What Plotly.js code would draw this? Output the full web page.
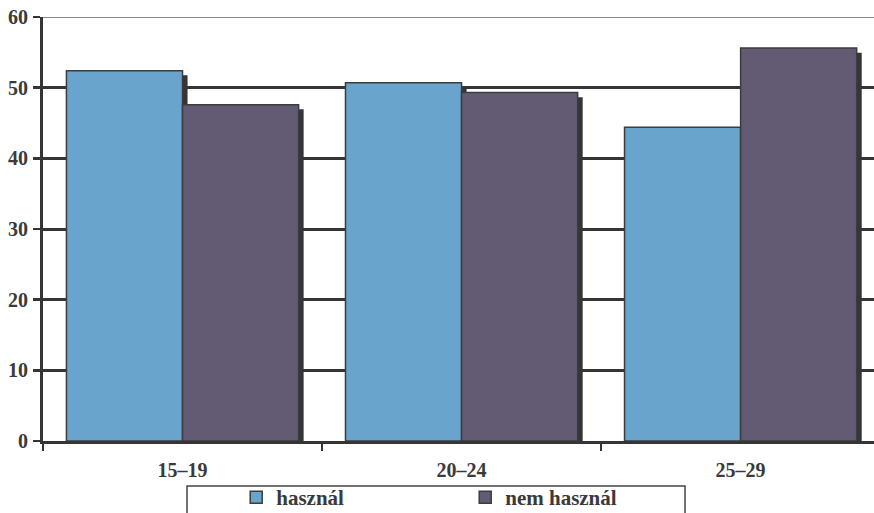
<!DOCTYPE html>
<html>
<head>
<meta charset="utf-8">
<script src="https://cdn.plot.ly/plotly-3.0.1.min.js"></script>
<style>html,body{margin:0;padding:0;background:#fff;}#chart{width:874px;height:513px;}</style>
</head>
<body>
<div id="chart"></div>
<script>
// Data
const categories = ["15–19", "20–24", "25–29"];
const hasznal = [52.4, 50.7, 44.4];
const nemHasznal = [47.6, 49.3, 55.6];
const seriesNames = ["használ", "nem használ"];
const yTicks = [0, 10, 20, 30, 40, 50, 60];

const blue = "#68A4CB";
const purple = "#635B73";
const dark = "#353535";
const barW = 0.416;
const shadowDx = 0.018;
const shadowDrop = -0.65;
const font = {family: "Liberation Serif", size: 20, color: "#3a3a3a", weight: 700};
const legendFont = {family: "Liberation Serif", size: 21, color: "#3a3a3a", weight: 700};

const traces = [
  {type: "bar", x: categories, y: hasznal, base: shadowDrop, offset: -barW + shadowDx, width: barW,
   marker: {color: dark, line: {width: 0}}, showlegend: false, hoverinfo: "skip"},
  {type: "bar", x: categories, y: nemHasznal, base: shadowDrop, offset: shadowDx, width: barW,
   marker: {color: dark, line: {width: 0}}, showlegend: false, hoverinfo: "skip"},
  {type: "bar", name: seriesNames[0], x: categories, y: hasznal, offset: -barW, width: barW,
   marker: {color: blue, line: {color: "#3c3c3c", width: 1.5}}},
  {type: "bar", name: seriesNames[1], x: categories, y: nemHasznal, offset: 0, width: barW,
   marker: {color: purple, line: {color: "#3c3c3c", width: 1.5}}}
];

const layout = {
  width: 874, height: 513,
  margin: {l: 43, r: 0, t: 17, b: 72, pad: 0, autoexpand: false},
  paper_bgcolor: "#fff", plot_bgcolor: "#fff",
  barmode: "overlay",
  font: font,
  xaxis: {
    type: "category", range: [-0.5, 2.478],
    showline: true, linecolor: dark, linewidth: 3,
    ticks: "outside", tickson: "boundaries", ticklen: 7, tickwidth: 2.5, tickcolor: dark,
    showgrid: false, zeroline: false, tickfont: font, ticklabelstandoff: 9
  },
  yaxis: {
    range: [0, 60], tickvals: yTicks, ticktext: yTicks.map(String),
    showline: true, linecolor: dark, linewidth: 3,
    ticks: "outside", ticklen: 7, tickwidth: 2.5, tickcolor: dark,
    showgrid: true, gridcolor: dark, gridwidth: 3, zeroline: false,
    tickfont: font, ticklabelstandoff: 1
  },
  shapes: [
    {type: "line", xref: "paper", yref: "y", x0: 0, x1: 1, y0: 60, y1: 60, line: {color: "#8a8a8a", width: 2}, layer: "above"},
    {type: "rect", xref: "paper", yref: "paper", x0: 0.1733, x1: 0.7726, y0: -0.106, y1: -0.2,
     line: {color: "#444", width: 1.5}, fillcolor: "rgba(0,0,0,0)", layer: "above"}
  ],
  legend: {
    orientation: "h", x: 0.2325, xanchor: "left", y: -0.085, yanchor: "top",
    bgcolor: "rgba(0,0,0,0)", borderwidth: 0, font: legendFont,
    entrywidth: 184, entrywidthmode: "pixels", traceorder: "normal"
  },
  showlegend: true
};

Plotly.newPlot("chart", traces, layout, {displayModeBar: false, staticPlot: true});
</script>
</body>
</html>
